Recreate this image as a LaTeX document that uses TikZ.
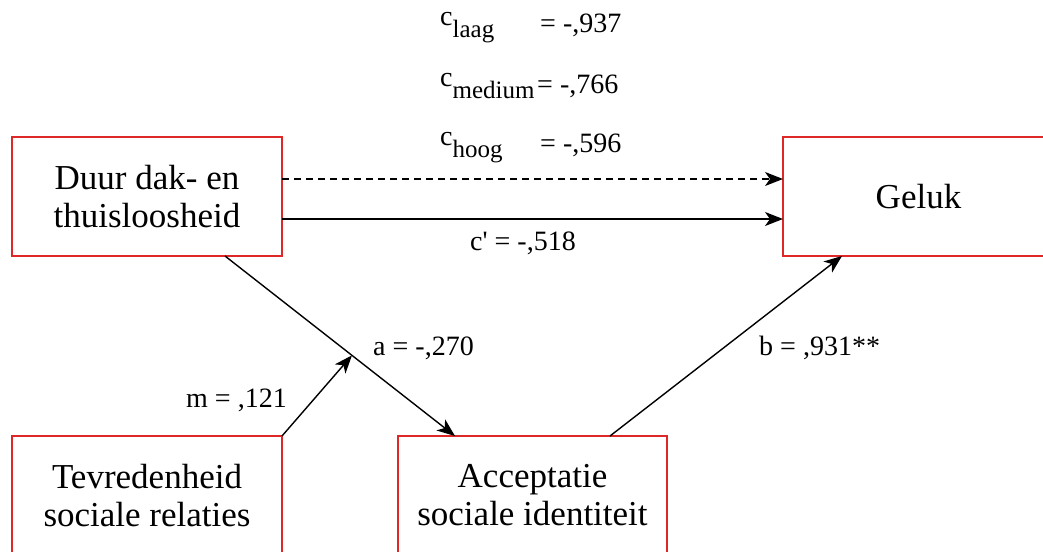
\documentclass[tikz,border=0pt]{standalone}
\usepackage{fontspec}
\setmainfont{Liberation Serif}[Ligatures=TeXOff]
\usetikzlibrary{arrows.meta,calc}
\definecolor{boxred}{RGB}{222,40,40}
\begin{document}
\begin{tikzpicture}[x=1pt,y=-1pt,
  box/.style={draw=boxred, line width=1.8pt, minimum width=270pt, minimum height=119pt,
    inner sep=0pt, outer sep=0pt, align=center, font=\fontsize{35}{38}\selectfont},
  lbl/.style={anchor=base west, inner sep=0pt, font=\fontsize{28}{30}\selectfont},
  conn/.style={line width=1.4pt, -{Stealth[length=18pt,width=14pt,inset=5pt]}}]
\useasboundingbox (0,0) rectangle (1043,551);
\clip (0,0) rectangle (1043,551);
\newcommand{\subtxt}[1]{\raisebox{-5pt}{\fontsize{25}{25}\selectfont #1}}
% boxes
\node[box] (duur) at (147,196.5) {Duur dak- en\\thuisloosheid};
\node[box, minimum width=271pt] (geluk) at (918.5,196.5) {Geluk};
\node[box] (tev) at (147,495.5) {Tevredenheid\\sociale relaties};
\node[box, minimum width=269pt] (acc) at (532.5,495.5) {Acceptatie\\sociale identiteit};
% connectors
\draw[conn, dash pattern=on 7pt off 5pt] ([yshift=17.5pt]duur.east) -- ([yshift=17.5pt]geluk.west);
\draw[conn] ([yshift=-22.5pt]duur.east) -- ([yshift=-22.5pt]geluk.west);
\coordinate (aS) at ([xshift=78pt]duur.south);
\coordinate (aE) at ([xshift=-77.5pt]acc.north);
\draw[conn] (aS) -- (aE);
\coordinate (mEnd) at ($(aS)!0.552!(aE)$);
\draw[conn] (tev.north east) -- (mEnd);
\draw[conn] ([xshift=77.5pt]acc.north) -- ([xshift=-76.5pt]geluk.south);
% labels
\node[lbl] (cl) at (440,33) {\raisebox{7pt}{c}\subtxt{laag}};
\node[lbl] (clv) at (540,33) {= -,937};
\node[lbl] (cm) at (440,93) {\raisebox{7pt}{c}\subtxt{medium}};
\node[lbl] (cmv) at (537,93) {= -,766};
\node[lbl] (ch) at (440,152) {\raisebox{7pt}{c}\subtxt{hoog}};
\node[lbl] (chv) at (540,152) {= -,596};
\node[lbl] (cp) at (470,250) {c' = -,518};
\node[lbl] (la) at (373,355) {a = -,270};
\node[lbl] (lm) at (186,407) {m = ,121};
\node[lbl] (lb) at (759,355) {b = ,931**};
\end{tikzpicture}
\end{document}
